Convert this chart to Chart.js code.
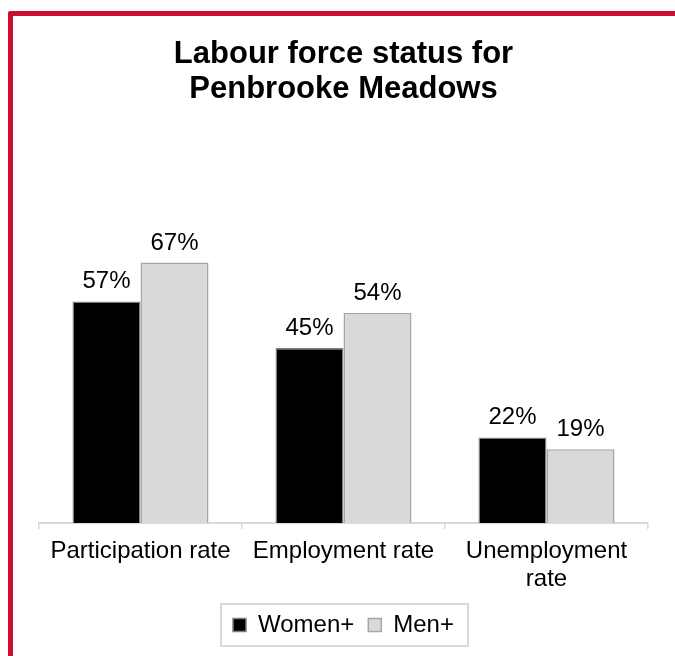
<!DOCTYPE html>
<html>
<head>
<meta charset="utf-8">
<title>Labour force status for Penbrooke Meadows</title>
<script src="https://cdn.jsdelivr.net/npm/chart.js@4.4.1/dist/chart.umd.min.js"></script>
<style>
  html, body { margin: 0; padding: 0; background: #fff; overflow: hidden; }
  #wrap { position: relative; width: 675px; height: 656px; }
  #frame {
    position: absolute; left: 8px; top: 11px; right: -10px; bottom: -10px;
    border-left: 5px solid #c8102e; border-top: 5px solid #c8102e;
    border-top-left-radius: 3px; pointer-events: none;
  }
</style>
</head>
<body>
<div id="wrap">
  <canvas id="myChart"></canvas>
  <div id="frame"></div>
</div>
<script>
// chart data
const categories = [['Participation rate'], ['Employment rate'], ['Unemployment', 'rate']];
const seriesNames = ['Women+', 'Men+'];
const womenValues = [57, 45, 22];
const menValues = [67, 54, 19];
const titleLines = ['Labour force status for', 'Penbrooke Meadows'];

const FONT = '"Liberation Sans", Arial, sans-serif';

// draws the % value above each bar
const valueLabels = {
  id: 'valueLabels',
  afterDatasetsDraw(chart) {
    const ctx = chart.ctx;
    ctx.save();
    ctx.font = '24px ' + FONT;
    ctx.fillStyle = '#000';
    ctx.textAlign = 'center';
    ctx.textBaseline = 'alphabetic';
    chart.data.datasets.forEach((ds, i) => {
      chart.getDatasetMeta(i).data.forEach((bar, j) => {
        ctx.fillText(ds.data[j] + '%', bar.x, bar.y - 13);
      });
    });
    ctx.restore();
  }
};

// light grey box round the legend items
const legendFrame = {
  id: 'legendFrame',
  afterDraw(chart) {
    const boxes = chart.legend && chart.legend.legendHitBoxes;
    if (!boxes || !boxes.length) return;
    const left = Math.min(...boxes.map(b => b.left)) - 12;
    const right = Math.max(...boxes.map(b => b.left + b.width)) + 14;
    const top = Math.min(...boxes.map(b => b.top)) - 9;
    const bottom = Math.max(...boxes.map(b => b.top + b.height)) + 9;
    const ctx = chart.ctx;
    ctx.save();
    ctx.strokeStyle = '#d9d9d9';
    ctx.lineWidth = 2;
    ctx.strokeRect(left, top, right - left, bottom - top);
    ctx.restore();
  }
};

new Chart(document.getElementById('myChart'), {
  type: 'bar',
  data: {
    labels: categories,
    datasets: [
      {
        label: seriesNames[0],
        data: womenValues,
        backgroundColor: '#000000',
        borderColor: '#7f7f7f',
        borderWidth: 1.5
      },
      {
        label: seriesNames[1],
        data: menValues,
        backgroundColor: '#d9d9d9',
        borderColor: '#a6a6a6',
        borderWidth: 1.5
      }
    ]
  },
  options: {
    responsive: true,
    maintainAspectRatio: false,
    animation: false,
    layout: { padding: { left: 39, right: 27, top: 0, bottom: 9 } },
    datasets: { bar: { categoryPercentage: 0.67, barPercentage: 1 } },
    scales: {
      x: {
        grid: { drawOnChartArea: false, tickLength: 6, color: '#d9d9d9', lineWidth: 1.5 },
        border: { color: '#d9d9d9', width: 2 },
        ticks: {
          color: '#000',
          padding: 9,
          maxRotation: 0,
          font: { family: FONT, size: 24, lineHeight: 1.15 }
        },
        afterFit(axis) { axis.height -= 3.2; }
      },
      y: {
        display: false,
        min: 0,
        max: 80
      }
    },
    plugins: {
      title: {
        display: true,
        text: titleLines,
        color: '#000',
        font: { family: FONT, size: 31, weight: 'bold', lineHeight: 35 / 31 },
        padding: { top: 37, bottom: 105 }
      },
      legend: {
        position: 'bottom',
        labels: {
          color: '#000',
          boxWidth: 13,
          boxHeight: 13,
          padding: 14,
          font: { family: FONT, size: 24 }
        }
      },
      tooltip: { enabled: false }
    }
  },
  plugins: [valueLabels, legendFrame]
});
</script>
</body>
</html>
